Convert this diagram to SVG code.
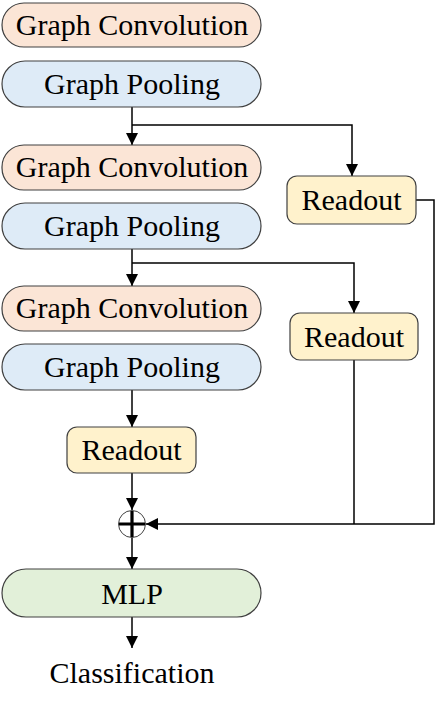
<svg xmlns="http://www.w3.org/2000/svg" width="436" height="705" viewBox="0 0 436 705">
<defs>
<style>
.box{stroke:#404040;stroke-width:1.2}
.gc{fill:#FBE5D6}
.gp{fill:#DEEBF7}
.ro{fill:#FFF2CC}
.mlp{fill:#E2F0D9}
.ln{fill:none;stroke:#000;stroke-width:1.5}
</style>
<marker id="ah" markerUnits="userSpaceOnUse" markerWidth="12" markerHeight="14" refX="12" refY="6" orient="auto" viewBox="0 0 12 12">
<path d="M0,0 L12,6 L0,12 Z" fill="#000"/>
</marker>
</defs>
<g id="connectors">
<path class="ln" d="M132,107 V145" marker-end="url(#ah)"/>
<path class="ln" d="M132,125 H352 V176" marker-end="url(#ah)"/>
<path class="ln" d="M132,249 V286" marker-end="url(#ah)"/>
<path class="ln" d="M132,263 H354 V313" marker-end="url(#ah)"/>
<path class="ln" d="M132,390 V427" marker-end="url(#ah)"/>
<path class="ln" d="M132,473 V510" marker-end="url(#ah)"/>
<path class="ln" d="M416,200 H434 V524 H146" marker-end="url(#ah)"/>
<path class="ln" d="M354,360 V524"/>
<path class="ln" d="M132,538 V569" marker-end="url(#ah)"/>
<path class="ln" d="M132,617 V648" marker-end="url(#ah)"/>
</g>
<g font-family="Liberation Serif, serif" font-size="30" text-anchor="middle" fill="#000">
<g id="gc1"><rect class="box gc" x="2" y="3" width="259" height="44" rx="22"/><text x="132" y="35">Graph Convolution</text></g>
<g id="gp1"><rect class="box gp" x="2" y="61" width="259" height="46" rx="23"/><text x="132" y="94">Graph Pooling</text></g>
<g id="gc2"><rect class="box gc" x="2" y="145" width="259" height="45" rx="22"/><text x="132" y="177">Graph Convolution</text></g>
<g id="gp2"><rect class="box gp" x="2" y="203" width="259" height="46" rx="23"/><text x="132" y="236">Graph Pooling</text></g>
<g id="gc3"><rect class="box gc" x="2" y="286" width="259" height="45" rx="22"/><text x="132" y="318">Graph Convolution</text></g>
<g id="gp3"><rect class="box gp" x="2" y="344" width="259" height="46" rx="23"/><text x="132" y="377">Graph Pooling</text></g>
<g id="readout1"><rect class="box ro" x="287" y="176" width="129" height="48" rx="10"/><text x="351.5" y="210">Readout</text></g>
<g id="readout2"><rect class="box ro" x="290" y="313" width="128" height="47" rx="10"/><text x="354" y="347">Readout</text></g>
<g id="readout3"><rect class="box ro" x="67" y="427" width="129" height="46" rx="10"/><text x="131.5" y="460">Readout</text></g>
<g id="sum">
<circle cx="132" cy="524" r="13.5" fill="#fff" stroke="#404040" stroke-width="1"/>
<path d="M119,524 H145 M132,511 V537" stroke="#000" stroke-width="3.2" fill="none"/>
</g>
<g id="mlp"><rect class="box mlp" x="2" y="569" width="259" height="48" rx="24"/><text x="132" y="604">MLP</text></g>
<g id="classification"><text x="132" y="683">Classification</text></g>
</g>
</svg>
